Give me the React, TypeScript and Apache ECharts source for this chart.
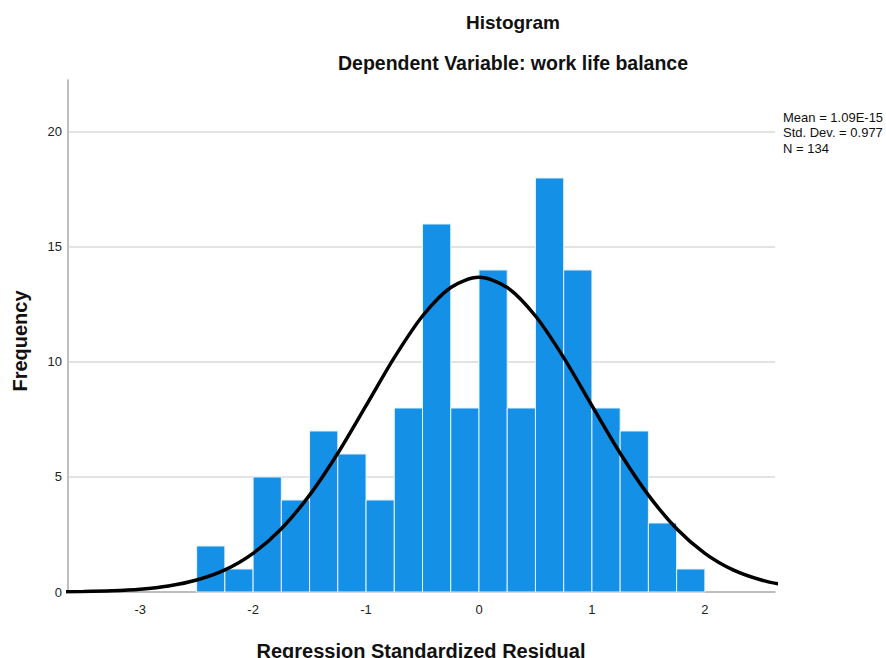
import React, { useEffect, useRef } from "react";
import * as echarts from "echarts";

const binLeftEdges = [-2.5, -2.25, -2.0, -1.75, -1.5, -1.25, -1.0, -0.75, -0.5, -0.25, 0.0, 0.25, 0.5, 0.75, 1.0, 1.25, 1.5, 1.75];
const binCounts = [2, 1, 5, 4, 7, 6, 4, 8, 16, 8, 14, 8, 18, 14, 8, 7, 3, 1];
const binWidth = 0.25;

// normal curve points
const curveX = [-3.75, -3.5, -3.25, -3.0, -2.75, -2.5, -2.25, -2.0, -1.75, -1.5, -1.25, -1.0, -0.75, -0.5, -0.25, 0.0, 0.25, 0.5, 0.75, 1.0, 1.25, 1.5, 1.75, 2.0, 2.25, 2.5, 2.75];
const curveY = [0.01, 0.02, 0.05, 0.12, 0.26, 0.52, 0.96, 1.68, 2.75, 4.21, 6.03, 8.10, 10.19, 12.0, 13.24, 13.68, 13.24, 12.0, 10.19, 8.10, 6.03, 4.21, 2.75, 1.68, 0.96, 0.52, 0.26];

const gridValues = [5, 10, 15, 20];
const statsLines = ["Mean = 1.09E-15", "Std. Dev. = 0.977", "N = 134"];

const FONT = "'Liberation Sans', Arial, sans-serif";

export default function App() {
  const ref = useRef<HTMLDivElement>(null);
  useEffect(() => {
    const chart = echarts.init(ref.current!, null, { renderer: "svg" });
    const barData = binLeftEdges.map((x, i) => [x, x + binWidth, binCounts[i]]);
    const curveData = curveX.map((x, i) => [x, curveY[i]]);
    chart.setOption({
      animation: false,
      backgroundColor: "#ffffff",
      grid: { left: 68, right: 111, top: 80, bottom: 66 },
      xAxis: {
        type: "value",
        min: -3.639,
        max: 2.621,
        splitLine: { show: false },
        axisTick: { show: false },
        axisLine: { show: true, onZero: false, lineStyle: { color: "#a8a8a8", width: 1.5 } },
        axisLabel: {
          showMinLabel: false,
          showMaxLabel: false,
          color: "#222",
          fontSize: 13,
          fontFamily: FONT,
          margin: 11,
        },
      },
      yAxis: {
        type: "value",
        min: 0,
        max: 22.26,
        interval: 5,
        splitLine: { show: false },
        axisTick: { show: false },
        axisLine: { show: true, onZero: false, lineStyle: { color: "#a8a8a8", width: 1.5 } },
        axisLabel: {
          showMaxLabel: false,
          color: "#222",
          fontSize: 13,
          fontFamily: FONT,
          margin: 6,
        },
      },
      series: [
        {
          type: "custom",
          z: 1,
          silent: true,
          data: gridValues.map((v) => [v]),
          renderItem: (params: any, api: any) => {
            const v = api.value(0);
            const p0 = api.coord([-3.639, v]);
            const p1 = api.coord([2.621, v]);
            return {
              type: "line",
              shape: { x1: p0[0], y1: p0[1], x2: p1[0], y2: p1[1] },
              style: { stroke: "#c8c8c8", lineWidth: 1.2 },
            };
          },
        },
        {
          type: "custom",
          z: 2,
          data: barData,
          encode: { x: [0, 1], y: 2 },
          renderItem: (params: any, api: any) => {
            const x0 = api.value(0);
            const x1 = api.value(1);
            const y = api.value(2);
            const p0 = api.coord([x0, y]);
            const p1 = api.coord([x1, 0]);
            return {
              type: "rect",
              shape: { x: p0[0], y: p0[1], width: p1[0] - p0[0], height: p1[1] - p0[1] },
              style: { fill: "#1490e6", stroke: "#e6f2fc", lineWidth: 1 },
            };
          },
        },
        {
          type: "line",
          z: 3,
          data: curveData,
          smooth: 0.3,
          showSymbol: false,
          clip: true,
          lineStyle: { color: "#000000", width: 3.5 },
        },
      ],
      graphic: [
        {
          type: "text",
          x: 513,
          y: 22,
          style: {
            text: "Histogram",
            font: `bold 19px ${FONT}`,
            fill: "#111",
            textAlign: "center",
            textVerticalAlign: "middle",
          },
        },
        {
          type: "text",
          x: 513,
          y: 63,
          style: {
            text: "Dependent Variable: work life balance",
            font: `bold 19.5px ${FONT}`,
            fill: "#111",
            textAlign: "center",
            textVerticalAlign: "middle",
          },
        },
        {
          type: "text",
          x: 20,
          y: 341,
          rotation: Math.PI / 2,
          style: {
            text: "Frequency",
            font: `bold 20px ${FONT}`,
            fill: "#111",
            textAlign: "center",
            textVerticalAlign: "middle",
          },
        },
        {
          type: "text",
          x: 421,
          y: 651,
          style: {
            text: "Regression Standardized Residual",
            font: `bold 20px ${FONT}`,
            fill: "#111",
            textAlign: "center",
            textVerticalAlign: "middle",
          },
        },
        ...statsLines.map((t, i) => ({
          type: "text",
          x: 783,
          y: 117 + i * 15.5,
          style: {
            text: t,
            font: `13px ${FONT}`,
            fill: "#111",
            textAlign: "left",
            textVerticalAlign: "middle",
          },
        })),
      ],
    });
    return () => chart.dispose();
  }, []);
  return <div ref={ref} style={{ width: 886, height: 658, position: "absolute", left: 0, top: 0 }} />;
}
